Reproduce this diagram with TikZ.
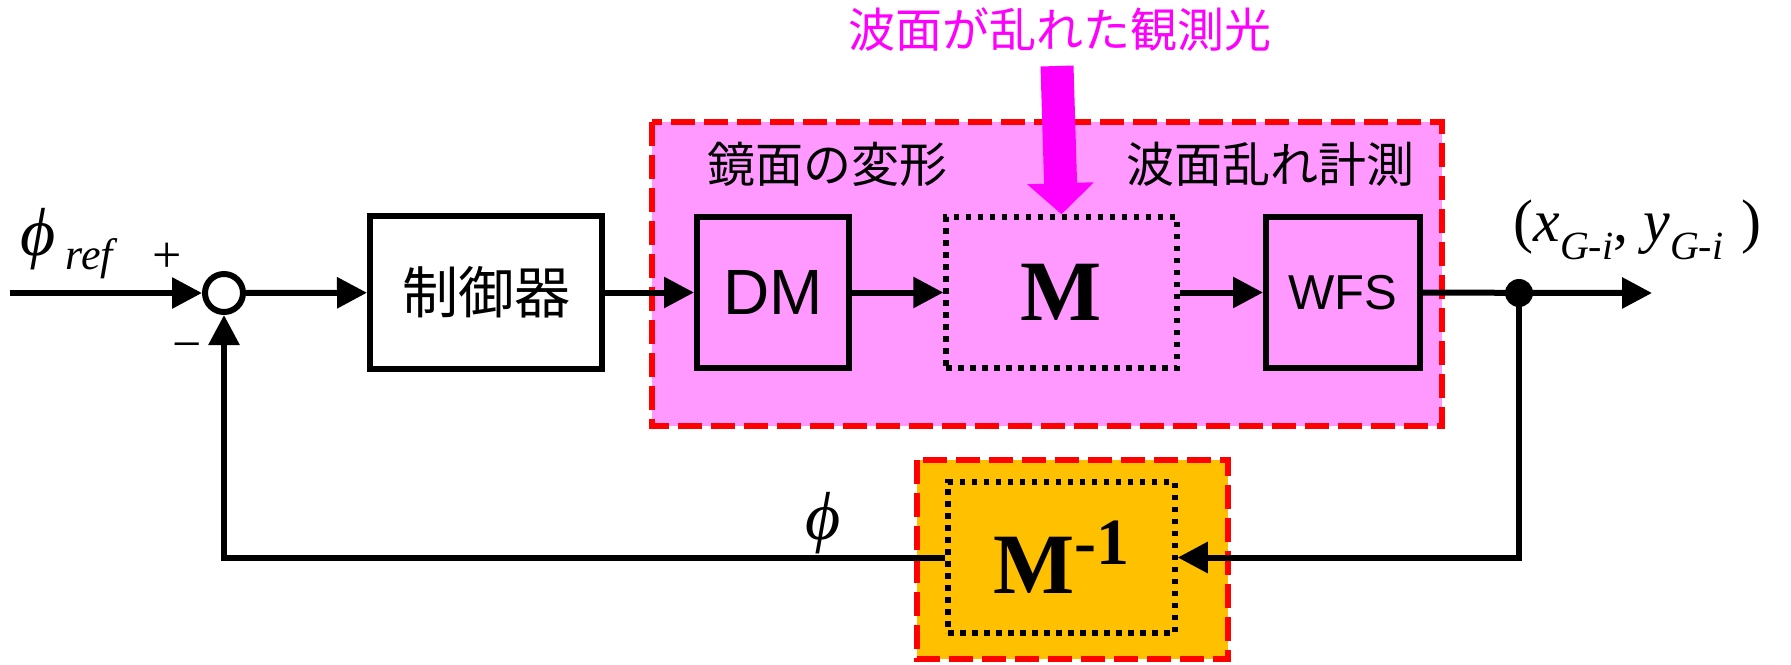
\documentclass[tikz,border=0pt]{standalone}
\usepackage{fontspec}
\setmainfont{Liberation Serif}
\newfontfamily\jpfont{Noto Sans CJK JP}
\newfontfamily\arialfont{Liberation Sans}
\usetikzlibrary{arrows.meta}
\definecolor{pinkfill}{HTML}{FF99FF}
\definecolor{goldfill}{HTML}{FFC000}
\definecolor{lightmag}{HTML}{FF00FF}
\newcommand{\fs}[1]{\fontsize{#1}{#1}\selectfont}

\begin{document}
\begin{tikzpicture}[x=0.5pt,y=-0.5pt,
  conn/.style={line width=3pt},
  flow/.style={conn, -{Triangle[length=15pt,width=15pt]}},
  block/.style={draw, line width=3pt, inner sep=0pt},
  dotbox/.style={draw, line width=2.75pt, dash pattern=on 2.75pt off 3.25pt, inner sep=0pt},
  region/.style={draw=red, line width=3.25pt, dash pattern=on 12pt off 4.5pt},
  lbl/.style={inner sep=0pt},
]
\useasboundingbox (0,0) rectangle (1791,664);

% shaded regions
\filldraw[region, fill=pinkfill] (652,122) rectangle (1442,426);
\filldraw[region, fill=goldfill] (917,460) rectangle (1228,659);

% blocks
\node[circle, draw, line width=3pt, minimum size=19pt, inner sep=0pt, fill=white] (sum) at (224,293) {};
\node[block, fill=white, minimum width=116pt, minimum height=76.5pt, font=\jpfont\fs{28}] (ctrl) at (486,292.5) {制御器};
\node[block, minimum width=76pt, minimum height=75.5pt, font=\arialfont\fs{32}] (dm) at (773,292.5) {DM};
\node[dotbox, minimum width=115.5pt, minimum height=75.5pt, font=\fs{43}\bfseries] (mm) at (1061.5,292.5) {M};
\node[block, minimum width=77pt, minimum height=75.5pt, font=\arialfont\fs{24.5}] (wfs) at (1343,292.5) {WFS};
\node[dotbox, minimum width=113.5pt, minimum height=75.5pt, font=\fs{43}\bfseries] (minv) at (1061.5,557.5) {M\raisebox{14.5pt}{\fs{33}-1}};
\node[circle, fill, minimum size=14pt, inner sep=0pt] (junc) at (1519,293) {};

% labels
\node[lbl, font=\jpfont\fs{24}] at (827,164) {鏡面の変形};
\node[lbl, font=\jpfont\fs{24}] at (1270,164) {波面乱れ計測};
\node[lbl, font=\jpfont\fs{23.5}, text=lightmag] (light) at (1060,30) {波面が乱れた観測光};
\node[lbl, anchor=base west] at (20,255) {\fs{34}\textit{ϕ}\hspace{5pt}\raisebox{-7pt}{\fs{22}\textit{ref}}};
\node[lbl, font=\fs{26}] at (167,258) {+};
\node[lbl, font=\fs{26}] at (187,352) {−};
\node[lbl, anchor=base west] at (805,539) {\fs{34}\textit{ϕ}};
\node[lbl, anchor=base west] at (1513,241) {\fs{30}(\textit{x}\raisebox{-9pt}{\fs{20}\textit{G-i}},\ \textit{y}\raisebox{-9pt}{\fs{20}\textit{G-i}}\hspace{9pt})};

% connectors
\coordinate (in) at (10,293);
\coordinate (out) at (1652,293);
\coordinate (lightsrc) at (1057,66);
\draw[flow] (in) -- (sum);
\draw[flow] (sum) -- (ctrl);
\draw[flow] (ctrl) -- (dm);
\draw[flow] (dm) -- (mm);
\draw[flow] (mm) -- (wfs);
\draw[flow] (wfs) -- (out);
\draw[flow] (junc.center) |- (minv.east);
\draw[flow] (minv.west) -| (sum.south);
\draw[line width=16.5pt, lightmag, -{Triangle[length=15.5pt,width=32.5pt]}] (lightsrc) -- (mm.north);
\end{tikzpicture}
\end{document}
